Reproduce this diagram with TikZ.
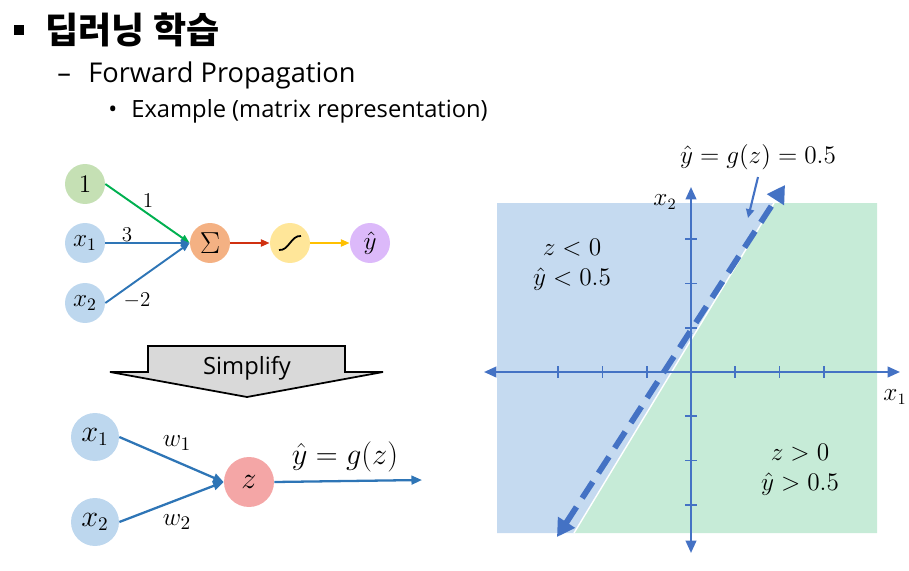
\documentclass[tikz,border=0pt]{standalone}
\usepackage{fontspec}
\setmainfont{Open Sans}
\newfontfamily\kofont{Noto Sans CJK KR}
\usetikzlibrary{arrows.meta,positioning,calc}
\definecolor{nodegreen}{RGB}{197,224,180}
\definecolor{nodeblue}{RGB}{189,215,238}
\definecolor{nodeorange}{RGB}{244,177,131}
\definecolor{nodeyellow}{RGB}{255,230,153}
\definecolor{nodepurple}{RGB}{220,185,250}
\definecolor{nodepink}{RGB}{244,166,166}
\definecolor{linegreen}{RGB}{0,176,80}
\definecolor{lineblue}{RGB}{46,117,182}
\definecolor{linered}{RGB}{208,48,16}
\definecolor{lineyellow}{RGB}{255,192,0}
\definecolor{axisblue}{RGB}{68,114,196}
\definecolor{bgblue}{RGB}{197,218,240}
\definecolor{bggreen}{RGB}{198,235,215}
\definecolor{arrowgray}{RGB}{217,217,217}

\begin{document}
\begin{tikzpicture}[x=0.02cm, y=-0.02cm,
    neuron/.style={circle, minimum size=0.8cm, inner sep=0pt, font=\fontsize{14}{16}\selectfont},
    bigneuron/.style={circle, minimum size=0.96cm, inner sep=0pt, font=\fontsize{16}{18}\selectfont},
    link/.style={-{Triangle[length=5pt,width=4pt]}, line width=1.1pt},
    biglink/.style={-{Triangle[length=6pt,width=5pt]}, line width=1.3pt, lineblue},
    wlabel/.style={inner sep=0pt, font=\fontsize{12.5}{14}\selectfont},
    mathlabel/.style={inner sep=0pt, font=\fontsize{15}{18}\selectfont},
    plotlabel/.style={inner sep=0pt, align=center, font=\fontsize{14}{17}\selectfont},
    axis/.style={axisblue, line width=1.2pt},
    tick/.style={axisblue, line width=1pt}]
  \useasboundingbox (0,0) rectangle (909,571);

  % heading
  \fill (14,25) rectangle (24,35);
  \node[anchor=base west, inner sep=0pt, font=\kofont\bfseries\fontsize{20.5}{23}\selectfont] (title) at (45,44) {딥러닝 학습};
  \node[anchor=base west, inner sep=0pt, font=\fontsize{15.5}{19}\selectfont] (dash) at (57,83) {–};
  \node[anchor=base west, inner sep=0pt, font=\fontsize{15.5}{19}\selectfont] (sub) at (88,83) {Forward Propagation};
  \node[anchor=base west, inner sep=0pt, font=\fontsize{13.5}{16}\selectfont] (dot) at (108,117) {•};
  \node[anchor=base west, inner sep=0pt, font=\fontsize{13.5}{16}\selectfont] (subsub) at (131,117) {Example (matrix representation)};

  % full neuron
  \node[neuron, fill=nodegreen] (one) at (85,184) {$1$};
  \node[neuron, fill=nodeblue] (xa) at (85,243) {$x_1$};
  \node[neuron, fill=nodeblue] (xb) at (85,303) {$x_2$};
  \node[neuron, fill=nodeorange, font=\fontsize{18}{20}\selectfont] (sum) at (210,243) {$\Sigma$};
  \node[neuron, fill=nodeyellow] (act) at (290,243) {};
  \node[neuron, fill=nodepurple] (yhat) at (370,243) {$\hat{y}$};
  \draw[line width=1pt] ($(act)+(-11,7)$) .. controls ($(act)+(-1,8)$) and ($(act)+(1,-8)$) .. ($(act)+(11,-7)$);

  \draw[link, linegreen] (one.east) -- (sum.west);
  \draw[link, lineblue] (xa.east) -- (sum.west);
  \draw[link, lineblue] (xb.east) -- (sum.west);
  \draw[link, linered] (sum.east) -- (act.west);
  \draw[link, lineyellow] (act.east) -- (yhat.west);
  \node[wlabel] (wone) at (148,201) {$1$};
  \node[wlabel] (wa) at (127,235) {$3$};
  \node[wlabel] (wb) at (137,301) {$-2$};

  % simplify arrow
  \draw[fill=arrowgray, line width=1pt] (148,346) -- (345,346) -- (345,372) -- (383,372)
    -- (247,397) -- (110,372) -- (148,372) -- cycle;
  \node[inner sep=0pt, font=\fontsize{13.5}{16}\selectfont] (simp) at (247,368) {Simplify};

  % simplified neuron
  \node[bigneuron, fill=nodeblue] (xc) at (95,437) {$x_1$};
  \node[bigneuron, fill=nodeblue] (xd) at (95,522) {$x_2$};
  \node[bigneuron, fill=nodepink, minimum size=1cm] (z) at (249,482) {$z$};
  \coordinate (zout) at (422,480);
  \draw[biglink] (xc.east) -- (z.west);
  \draw[biglink] (xd.east) -- (z.west);
  \draw[biglink] (z.east) -- (zout);
  \node[mathlabel] (wc) at (177,443) {$w_1$};
  \node[mathlabel] (wd) at (177,522) {$w_2$};
  \node[mathlabel, font=\fontsize{16}{18}\selectfont] (gz) at (345,457) {$\hat{y} = g(z)$};

  % decision regions
  \fill[bgblue] (497,203) -- (774,203) -- (574,533) -- (497,533) -- cycle;
  \fill[bggreen] (774,203) -- (877,203) -- (877,533) -- (574,533) -- cycle;
  \draw[white, line width=0.8pt] (774,203) -- (574,533);

  \coordinate (o) at (691,372);
  \draw[axis, {Triangle[length=7pt,width=6pt]}-{Triangle[length=7pt,width=6pt]}] (484,372) -- (900,372);
  \draw[axis, {Triangle[length=7pt,width=6pt]}-{Triangle[length=7pt,width=6pt]}] (691,187) -- (691,553);
  \foreach \t in {-3,-2,-1,1,2,3} {
    \draw[tick] ($(o)+(\t*44.3,-6)$) -- ($(o)+(\t*44.3,6)$);
    \draw[tick] ($(o)+(-6,\t*44.3)$) -- ($(o)+(6,\t*44.3)$);
  }
  \node[plotlabel, font=\fontsize{13.5}{16}\selectfont] (xone) at (895,397) {$x_1$};
  \node[plotlabel, font=\fontsize{13.5}{16}\selectfont] (xtwo) at (665,202) {$x_2$};

  \draw[axisblue, line width=3.3pt, dash pattern=on 11pt off 6pt,
    {Triangle[length=10pt,width=11pt]}-{Triangle[length=10pt,width=11pt]}] (557,537) -- (785,185);

  \node[plotlabel] (neg) at (572,265) {$z < 0$\\$\hat{y} < 0.5$};
  \node[plotlabel] (pos) at (800,470) {$z > 0$\\$\hat{y} > 0.5$};
  \node[plotlabel] (bound) at (758,157) {$\hat{y} = g(z) = 0.5$};
  \coordinate (ptr) at (748,218);
  \draw[axisblue, line width=1.2pt, -{Triangle[length=5pt,width=4.5pt]}] ([yshift=-4pt]bound.south) -- (ptr);
\end{tikzpicture}
\end{document}
